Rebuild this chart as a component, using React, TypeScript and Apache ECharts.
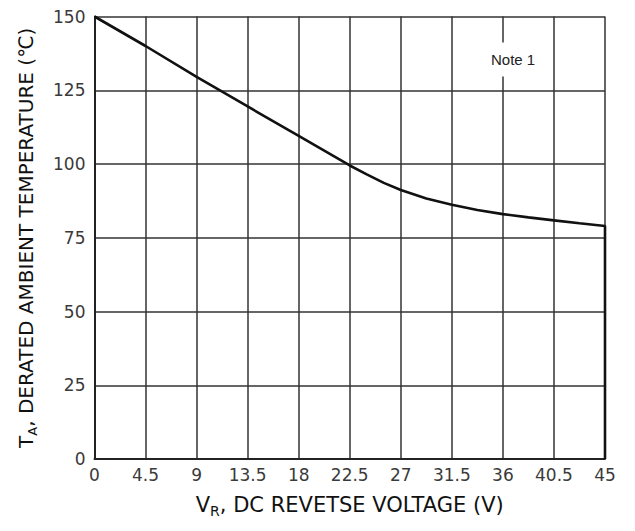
import React, { useEffect, useRef } from "react";
import * as echarts from "echarts";

const xTicks = [0, 4.5, 9, 13.5, 18, 22.5, 27, 31.5, 36, 40.5, 45];
const yTicks = [0, 25, 50, 75, 100, 125, 150];
const voltage = [0, 4.5, 9, 13.5, 18, 22.5, 24, 25.5, 27, 29.25, 31.5, 33.75, 36, 38.25, 40.5, 42.75, 45, 45];
const temperature = [150, 140, 129.5, 119.5, 109.5, 99.5, 96.5, 93.6, 91.2, 88.3, 86.2, 84.4, 83, 81.9, 80.9, 79.9, 79, 0];
const noteLabel = "Note 1";
const notePos = [36.9, 135.4];
const xTitle = "{n|V}{s|R}{n|, DC REVETSE VOLTAGE (V)}";
const yTitle = "{n|T}{s|A}{n|, DERATED AMBIENT TEMPERATURE (℃)}";

export default function App() {
  const ref = useRef<HTMLDivElement>(null);
  useEffect(() => {
    if (!ref.current) return;
    const chart = echarts.init(ref.current, undefined, { renderer: "svg" });
    const font = '"DejaVu Sans", Arial, sans-serif';
    const gridLine = { show: true, lineStyle: { color: "#333", width: 1.5 } };
    const richFor = (size: number) => ({
      n: { fontSize: size, fontFamily: font, color: "#111" },
      s: { fontSize: Math.round(size * 0.65), fontFamily: font, color: "#111", padding: [12, 0, 0, 0] },
    });
    chart.setOption({
      animation: false,
      backgroundColor: "#fff",
      grid: { left: 78, right: 22, top: 6, bottom: 56, containLabel: false },
      xAxis: {
        type: "value",
        min: xTicks[0],
        max: xTicks[xTicks.length - 1],
        interval: xTicks[1] - xTicks[0],
        axisLine: { show: true, lineStyle: { color: "#222", width: 2 } },
        axisTick: { show: false },
        splitLine: gridLine,
        axisLabel: { fontSize: 17, fontFamily: font, color: "#3a3a3a", margin: 7 },
        name: xTitle,
        nameLocation: "middle",
        nameGap: 33,
        nameTextStyle: { rich: richFor(21) },
      },
      yAxis: {
        type: "value",
        min: yTicks[0],
        max: yTicks[yTicks.length - 1],
        interval: yTicks[1] - yTicks[0],
        axisLine: { show: true, lineStyle: { color: "#222", width: 2 } },
        axisTick: { show: false },
        splitLine: gridLine,
        axisLabel: { fontSize: 17, fontFamily: font, color: "#3a3a3a", margin: 9 },
        name: yTitle,
        nameLocation: "middle",
        nameRotate: 90,
        nameGap: 56,
        nameTextStyle: { rich: richFor(20) },
      },
      series: [
        {
          type: "line",
          data: voltage.map((v, i) => [v, temperature[i]]),
          showSymbol: false,
          symbol: "none",
          lineStyle: { color: "#111", width: 2.6 },
          markPoint: {
            symbol: "rect",
            symbolSize: [50, 34],
            itemStyle: { color: "#fff" },
            label: { show: true, formatter: noteLabel, color: "#222", fontSize: 15, fontFamily: '"Liberation Sans", Arial, sans-serif' },
            data: [{ coord: notePos }],
          },
        },
      ],
    });
    return () => chart.dispose();
  }, []);
  return <div ref={ref} style={{ width: 619, height: 515 }} />;
}
